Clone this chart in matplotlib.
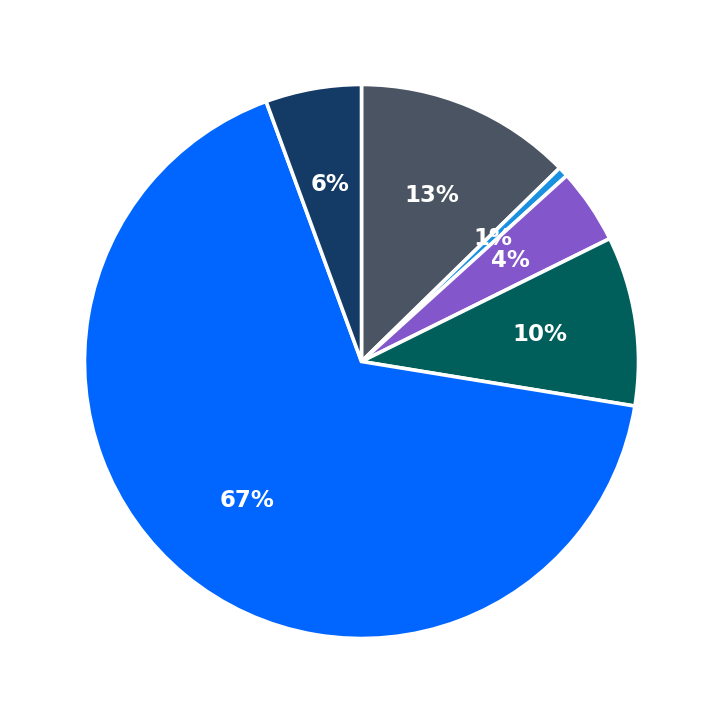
import matplotlib
matplotlib.use("Agg")
import matplotlib.pyplot as plt

categories = ["A", "B", "C", "D", "E", "F"]
values = [12.7, 0.6, 4.4, 9.9, 66.9, 5.6]
colors = ["#4a5462", "#1a90e0", "#8456cc", "#005e5b", "#0066ff", "#143a66"]

fig = plt.figure(figsize=(7.23, 7.23), dpi=100)
ax = fig.add_axes([0, 0, 1, 1])
wedges, texts, autotexts = ax.pie(
    values, labels=None, colors=colors, startangle=90, counterclock=False,
    autopct="%.0f%%", pctdistance=0.65,
    wedgeprops=dict(edgecolor="white", linewidth=2.6),
    textprops=dict(color="white", fontsize=16.5, fontweight="bold"),
)
ax.set_xlim(-1.305, 1.305)
ax.set_ylim(-1.305, 1.305)
ax.set_aspect("equal")
ax.axis("off")
fig.savefig("out.png", dpi=100, facecolor="white")
